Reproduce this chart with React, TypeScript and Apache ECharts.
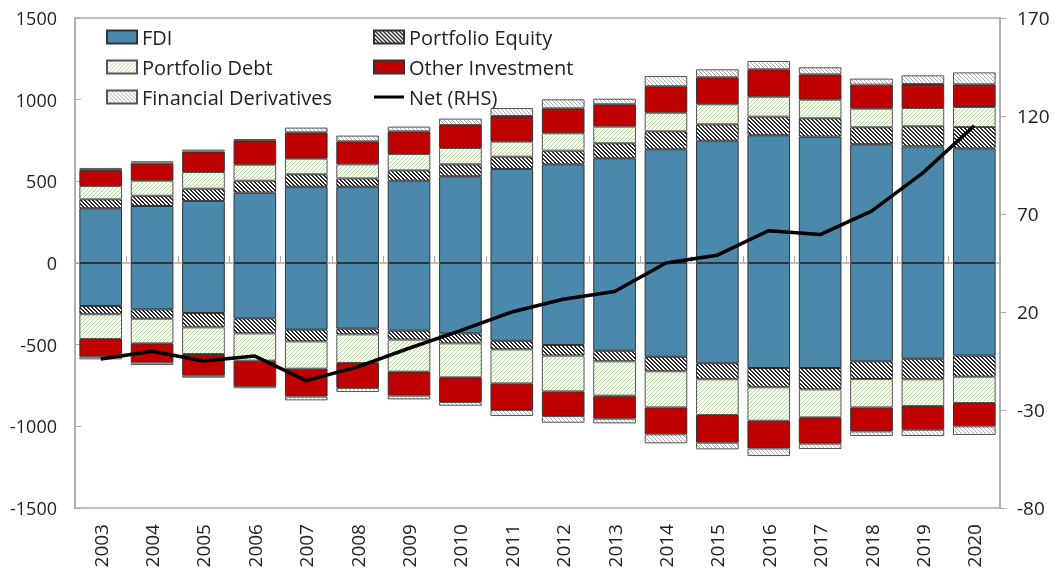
import React, { useEffect, useRef } from "react";
import * as echarts from "echarts";

const years = ["2003","2004","2005","2006","2007","2008","2009","2010","2011","2012","2013","2014","2015","2016","2017","2018","2019","2020"];

// Assets (positive)
const fdiA = [335, 349, 380, 431, 467, 467, 504, 531, 576, 604, 641, 696, 749, 782, 774, 727, 714, 702];
const peA = [55, 63, 75, 73, 76, 51, 63, 73, 75, 84, 92, 110, 100, 114, 112, 104, 123, 131];
const pdA = [81, 92, 102, 98, 96, 86, 100, 100, 92, 106, 102, 114, 123, 122, 114, 114, 112, 122];
const oiA = [98, 106, 125, 145, 161, 141, 139, 141, 157, 153, 137, 162, 165, 168, 155, 147, 147, 139];
const fdA = [13, 13, 12, 12, 29, 35, 29, 39, 49, 55, 34, 63, 49, 51, 43, 37, 53, 73];

// Liabilities (negative)
const fdiL = [-263, -284, -306, -339, -408, -402, -414, -431, -476, -502, -537, -574, -614, -643, -643, -602, -586, -567];
const peL = [-51, -57, -88, -92, -72, -35, -55, -61, -53, -65, -65, -89, -98, -118, -131, -108, -126, -129];
const pdL = [-151, -151, -163, -167, -167, -175, -196, -208, -208, -219, -210, -221, -219, -205, -171, -174, -164, -161];
const oiL = [-109, -118, -133, -155, -171, -153, -147, -151, -163, -151, -141, -165, -169, -169, -161, -147, -145, -143];
const fdL = [-16, -15, -12, -14, -23, -25, -23, -23, -37, -41, -29, -55, -41, -47, -33, -28, -38, -53];

// Net (RHS)
const net = [-4, 0, -5, -2.5, -15, -8, 1.5, 10.5, 20, 26.5, 30.5, 45, 49, 61.5, 59.5, 71.5, 91, 115];

const leftTicks = { min: -1500, max: 1500, interval: 500 };
const rightTicks = { min: -80, max: 170, interval: 50 };

const FONT = "Open Sans";

function hatch(ink: string, test: (x: number, y: number) => boolean): any {
  const n = 8;
  const c = document.createElement("canvas");
  c.width = n;
  c.height = n;
  const ctx = c.getContext("2d")!;
  ctx.fillStyle = "#ffffff";
  ctx.fillRect(0, 0, n, n);
  ctx.fillStyle = ink;
  for (let x = 0; x < n; x++) {
    for (let y = 0; y < n; y++) {
      if (test(x, y)) ctx.fillRect(x, y, 1, 1);
    }
  }
  return { image: c.toDataURL(), repeat: "repeat", imageWidth: n, imageHeight: n };
}

export default function App() {
  const ref = useRef<HTMLDivElement>(null);
  useEffect(() => {
    if (!ref.current) return;
    const chart = echarts.init(ref.current, undefined, { renderer: "svg" });

    const mod = (a: number, m: number) => ((a % m) + m) % m;
    const pePat = hatch("#2a2a2a", (x, y) => mod(x - y, 4) < 2);
    const pdPat = hatch("#b6da9e", (x, y) => mod(x + y, 4) === 0);
    const fdPat = hatch("#ababab", (x, y) => mod(x - y, 4) === 0);

    const styles: Record<string, any> = {
      FDI: { color: "#4A89AB", borderColor: "#333", borderWidth: 1 },
      "Portfolio Equity": { color: pePat, borderColor: "#333", borderWidth: 1 },
      "Portfolio Debt": { color: pdPat, borderColor: "#555", borderWidth: 1 },
      "Other Investment": { color: "#C00000", borderColor: "#333", borderWidth: 1 },
      "Financial Derivatives": { color: fdPat, borderColor: "#555", borderWidth: 1 },
    };

    const pos: [string, number[]][] = [
      ["FDI", fdiA], ["Portfolio Equity", peA], ["Portfolio Debt", pdA], ["Other Investment", oiA], ["Financial Derivatives", fdA],
    ];
    const neg: [string, number[]][] = [
      ["FDI", fdiL], ["Portfolio Equity", peL], ["Portfolio Debt", pdL], ["Other Investment", oiL], ["Financial Derivatives", fdL],
    ];

    const barSeries: any[] = [];
    [...pos, ...neg].forEach(([name, data]) => {
      barSeries.push({
        name, type: "bar", stack: "total", data, barCategoryGap: "17%",
        itemStyle: styles[name], xAxisIndex: 0, yAxisIndex: 0,
      });
    });

    const legendText = { fontFamily: FONT, fontSize: 20, color: "#222", lineHeight: 20 };

    chart.setOption({
      animation: false,
      textStyle: { fontFamily: FONT },
      grid: { left: 75, right: 55, top: 18, bottom: 63, show: true, borderColor: "#aaaaaa", borderWidth: 1.5 },
      legend: [
        {
          data: ["FDI", "Portfolio Debt", "Financial Derivatives"],
          orient: "vertical", left: 101, top: 22, itemWidth: 30, itemHeight: 13, itemGap: 10,
          textStyle: legendText, icon: "rect", selectedMode: false,
        },
        {
          data: ["Portfolio Equity", "Other Investment", { name: "Net (RHS)", icon: "path://M0,0 L10,0 L10,1 L0,1 Z" }],
          orient: "vertical", left: 368, top: 22, itemWidth: 30, itemHeight: 13, itemGap: 10,
          textStyle: legendText, icon: "rect", selectedMode: false,
        },
      ],
      xAxis: [
        {
          type: "category", data: years, position: "bottom",
          axisLine: { onZero: false, show: false },
          axisTick: { show: false },
          axisLabel: { rotate: 90, fontSize: 19, color: "#222", margin: 16, fontFamily: FONT },
        },
        {
          type: "category", data: years, position: "bottom",
          axisLine: { onZero: true, show: true, lineStyle: { color: "#aaaaaa", width: 1.5 } },
          axisTick: { show: true, inside: true, length: 7, lineStyle: { color: "#aaaaaa" } },
          axisLabel: { show: false },
        },
      ],
      yAxis: [
        {
          type: "value", ...leftTicks, position: "left",
          axisLine: { show: true, lineStyle: { color: "#aaaaaa", width: 1.5 } },
          axisTick: { show: true, inside: true, length: 6, lineStyle: { color: "#aaaaaa" } },
          splitLine: { show: false },
          axisLabel: { fontSize: 18, color: "#222", margin: 18, fontFamily: FONT, formatter: (v: number) => String(v) },
        },
        {
          type: "value", ...rightTicks, position: "right",
          axisLine: { show: true, lineStyle: { color: "#aaaaaa", width: 1.5 } },
          axisTick: { show: true, inside: false, length: 6, lineStyle: { color: "#aaaaaa" } },
          splitLine: { show: false },
          axisLabel: { fontSize: 19, color: "#222", margin: 17, fontFamily: FONT, formatter: (v: number) => String(v) },
        },
      ],
      series: [
        ...barSeries,
        {
          name: "Net (RHS)", type: "line", data: net, xAxisIndex: 0, yAxisIndex: 1,
          symbol: "none", lineStyle: { color: "#000", width: 3.5 }, itemStyle: { color: "#000" }, z: 10,
        },
      ],
    });
    return () => chart.dispose();
  }, []);
  return <div ref={ref} style={{ position: "fixed", left: 0, top: 0, width: 1055, height: 571 }} />;
}
